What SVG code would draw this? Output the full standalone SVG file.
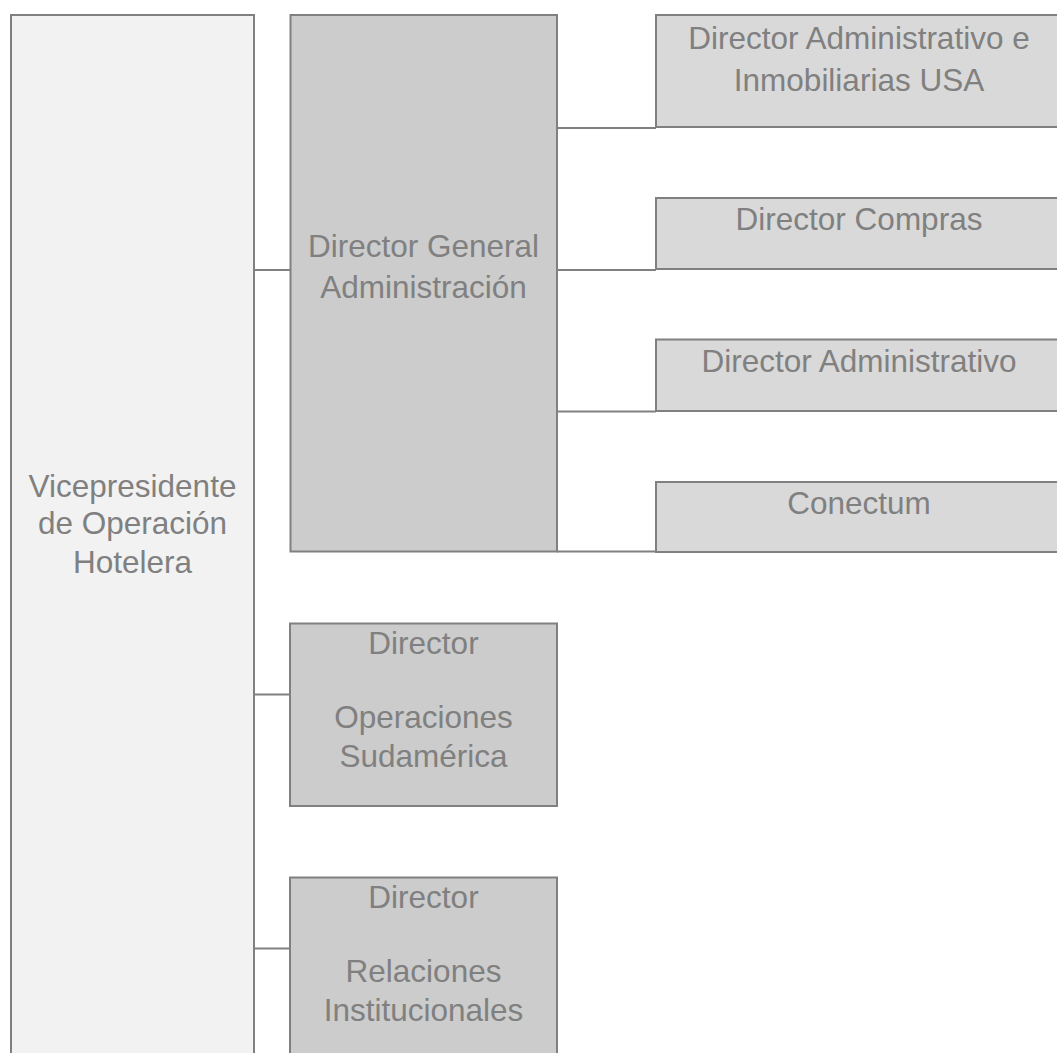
<svg xmlns="http://www.w3.org/2000/svg" width="1057" height="1053" viewBox="0 0 1057 1053">
  <style>
    .box { stroke: #808080; stroke-width: 2; }
    .vp { fill: #f2f2f2; }
    .mid { fill: #cccccc; }
    .leaf { fill: #d9d9d9; }
    .lbl { font-family: "Liberation Sans", Arial, sans-serif; font-size: 31.5px; fill: #808080; text-anchor: middle; }
    .conn { stroke: #808080; stroke-width: 2; fill: none; }
  </style>
  <rect width="1057" height="1053" fill="#ffffff"/>

  <!-- Connectors -->
  <g id="connectors">
    <line class="conn" x1="254" y1="270" x2="290" y2="270"/>
    <line class="conn" x1="254" y1="694.5" x2="290" y2="694.5"/>
    <line class="conn" x1="254" y1="948.5" x2="290" y2="948.5"/>
    <line class="conn" x1="557" y1="128" x2="656" y2="128"/>
    <line class="conn" x1="557" y1="270" x2="656" y2="270"/>
    <line class="conn" x1="557" y1="411.5" x2="656" y2="411.5"/>
    <line class="conn" x1="557" y1="551.5" x2="656" y2="551.5"/>
  </g>

  <!-- Vicepresidente -->
  <g id="vicepresidente">
    <rect class="box vp" x="11" y="15" width="243" height="1060"/>
    <text class="lbl" x="132.5" y="496.5">Vicepresidente</text>
    <text class="lbl" x="132.5" y="534">de Operación</text>
    <text class="lbl" x="132.5" y="573">Hotelera</text>
  </g>

  <!-- Director General Administración -->
  <g id="dir-general-admin">
    <rect class="box mid" x="290.5" y="15" width="266.5" height="536.5"/>
    <text class="lbl" x="423.5" y="256.5">Director General</text>
    <text class="lbl" x="423.5" y="298">Administración</text>
  </g>

  <!-- Director Administrativo e Inmobiliarias USA -->
  <g id="dir-admin-usa">
    <rect class="box leaf" x="656" y="15" width="406" height="112"/>
    <text class="lbl" x="859" y="49">Director Administrativo e</text>
    <text class="lbl" x="859" y="91">Inmobiliarias USA</text>
  </g>

  <!-- Director Compras -->
  <g id="dir-compras">
    <rect class="box leaf" x="656" y="198" width="406" height="71"/>
    <text class="lbl" x="859" y="230">Director Compras</text>
  </g>

  <!-- Director Administrativo -->
  <g id="dir-administrativo">
    <rect class="box leaf" x="656" y="339.5" width="406" height="71.5"/>
    <text class="lbl" x="859" y="371.5">Director Administrativo</text>
  </g>

  <!-- Conectum -->
  <g id="conectum">
    <rect class="box leaf" x="656" y="482" width="406" height="70"/>
    <text class="lbl" x="859" y="513.5">Conectum</text>
  </g>

  <!-- Director Operaciones Sudamérica -->
  <g id="dir-operaciones">
    <rect class="box mid" x="290" y="623.5" width="267" height="182.5"/>
    <text class="lbl" x="423.5" y="654">Director</text>
    <text class="lbl" x="423.5" y="727.5">Operaciones</text>
    <text class="lbl" x="423.5" y="766.5">Sudamérica</text>
  </g>

  <!-- Director Relaciones Institucionales -->
  <g id="dir-relaciones">
    <rect class="box mid" x="290" y="877.5" width="267" height="182.5"/>
    <text class="lbl" x="423.5" y="908">Director</text>
    <text class="lbl" x="423.5" y="981.5">Relaciones</text>
    <text class="lbl" x="423.5" y="1020.5">Institucionales</text>
  </g>
</svg>
